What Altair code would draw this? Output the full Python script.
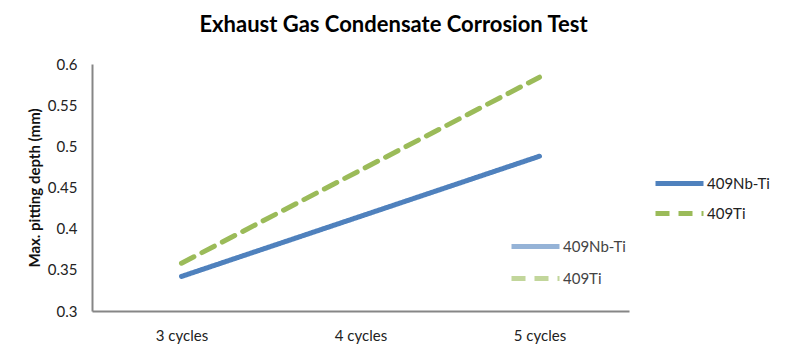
import altair as alt
import pandas as pd

categories = ["3 cycles", "4 cycles", "5 cycles"]
series_names = ["409Nb-Ti", "409Ti"]
nb_ti = [0.342, 0.415, 0.488]
ti = [0.358, 0.471, 0.584]
y_ticks = [0.3, 0.35, 0.4, 0.45, 0.5, 0.55, 0.6]

rows = []
for c, v in zip(categories, nb_ti):
    rows.append({"cycle": c, "series": series_names[0], "depth": v})
for c, v in zip(categories, ti):
    rows.append({"cycle": c, "series": series_names[1], "depth": v})
df = pd.DataFrame(rows)

FONT = "Lato"
colors = ["#4F81BD", "#9BBB59"]
dashes = [[1, 0], [14, 9]]

x_enc = alt.X("cycle:N", sort=categories, title=None,
              scale=alt.Scale(type="point", padding=0.5),
              axis=alt.Axis(labelAngle=0, labelFontSize=15, labelFont=FONT, labelColor="#222",
                            labelPadding=17, ticks=False, domainColor="#868686", domainWidth=2,
                            grid=False))
y_enc = alt.Y("depth:Q", title="Max. pitting depth (mm)",
              scale=alt.Scale(domain=[0.3, 0.6], nice=False, zero=False),
              axis=alt.Axis(values=y_ticks, format="~g", labelFontSize=15, labelFont=FONT,
                            labelColor="#222", labelPadding=15, ticks=False, domainColor="#868686",
                            domainWidth=2, grid=False, titleFont=FONT, titleFontSize=15,
                            titleFontWeight="bold", titleColor="#111", titlePadding=5,
                            labelFlush=False))


def make_legend(x, y, opacity, label_color, row_pad):
    return alt.Legend(title=None, orient="none", legendX=x, legendY=y,
                      symbolType="M-2,0L2,0", symbolSize=576, symbolStrokeWidth=5,
                      symbolOpacity=opacity, labelFont=FONT, labelFontSize=15,
                      labelColor=label_color, labelOffset=13, rowPadding=row_pad)


main = alt.Chart(df).mark_line(strokeWidth=5, strokeCap="round").encode(
    x=x_enc, y=y_enc,
    color=alt.Color("series:N", sort=series_names,
                    scale=alt.Scale(domain=series_names, range=colors),
                    legend=make_legend(573, 105, 1, "#222", 5)),
    strokeDash=alt.StrokeDash("series:N", sort=series_names,
                              scale=alt.Scale(domain=series_names, range=dashes),
                              legend=make_legend(573, 105, 1, "#222", 5)),
)

ghost = alt.Chart(df).mark_line(strokeWidth=5, strokeCap="round", opacity=0).encode(
    x=x_enc, y=y_enc,
    color=alt.Color("series:N", sort=series_names,
                    scale=alt.Scale(domain=series_names, range=colors),
                    legend=make_legend(429, 168, 0.6, "#444", 7)),
    strokeDash=alt.StrokeDash("series:N", sort=series_names,
                              scale=alt.Scale(domain=series_names, range=dashes),
                              legend=make_legend(429, 168, 0.6, "#444", 7)),
)

chart = alt.layer(main, ghost).resolve_scale(
    color="independent", strokeDash="independent"
).resolve_legend(
    color="independent", strokeDash="independent"
).properties(
    width=537, height=247,
    title=alt.TitleParams("Exhaust Gas Condensate Corrosion Test", font=FONT, fontSize=22,
                          fontWeight="bold", color="#000", anchor="middle", dx=33, offset=20),
    padding={"left": 92, "top": 64, "right": 158, "bottom": 44},
    autosize=alt.AutoSizeParams(type="none"),
    background="white",
).configure_view(stroke="transparent", strokeWidth=0)

chart.save("out.html", embed_options={"renderer": "svg", "actions": False})
